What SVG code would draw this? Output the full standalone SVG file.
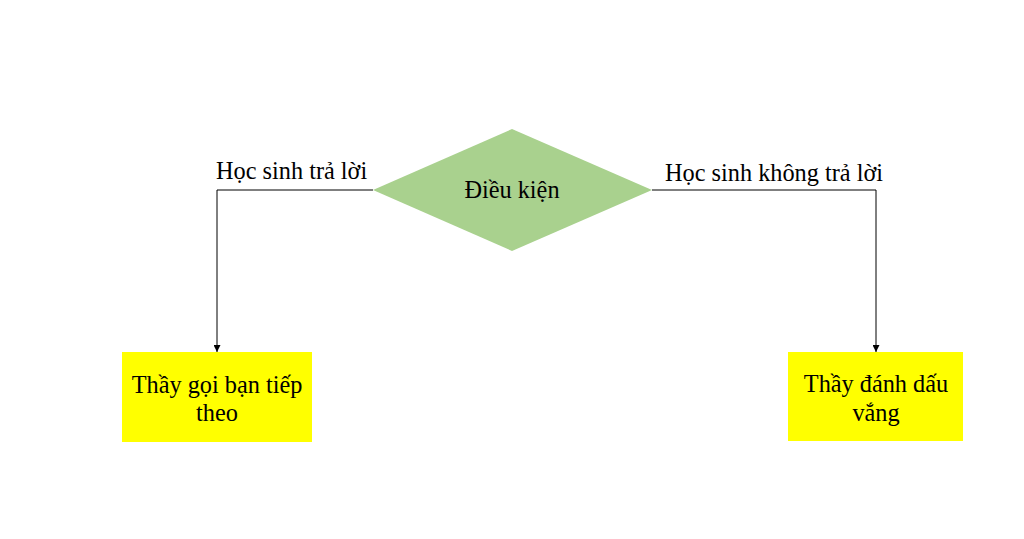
<svg xmlns="http://www.w3.org/2000/svg" width="1024" height="539" viewBox="0 0 1024 539">
<style>
text{font-family:"Liberation Serif","Times New Roman",serif;font-size:24.3px;fill:#000}
.box{fill:#FFFF00}
.edge{fill:none;stroke:#000;stroke-width:1}
</style>
<defs>
<marker id="arr" viewBox="0 0 10 10" refX="10" refY="5" markerWidth="7" markerHeight="7" orient="auto" markerUnits="userSpaceOnUse">
<path d="M0,0 L10,5 L0,10 z" fill="#000"/>
</marker>
</defs>
<rect width="1024" height="539" fill="#fff"/>
<g id="connectors">
<path class="edge" d="M373,190 H217 V352" marker-end="url(#arr)"/>
<path class="edge" d="M652,190 H876 V352" marker-end="url(#arr)"/>
<text x="216" y="179">Học sinh trả lời</text>
<text x="665" y="181">Học sinh không trả lời</text>
</g>
<g id="decision">
<polygon points="512,129 652,190 512,251 373,190" fill="#A9D18E"/>
<text x="512" y="198" text-anchor="middle">Điều kiện</text>
</g>
<g id="box-left">
<rect class="box" x="122" y="352" width="190" height="90"/>
<text x="217" y="393" text-anchor="middle">Thầy gọi bạn tiếp</text>
<text x="217" y="421" text-anchor="middle">theo</text>
</g>
<g id="box-right">
<rect class="box" x="788" y="352" width="175" height="89"/>
<text x="876" y="392" text-anchor="middle">Thầy đánh dấu</text>
<text x="876" y="421" text-anchor="middle">vắng</text>
</g>
</svg>
